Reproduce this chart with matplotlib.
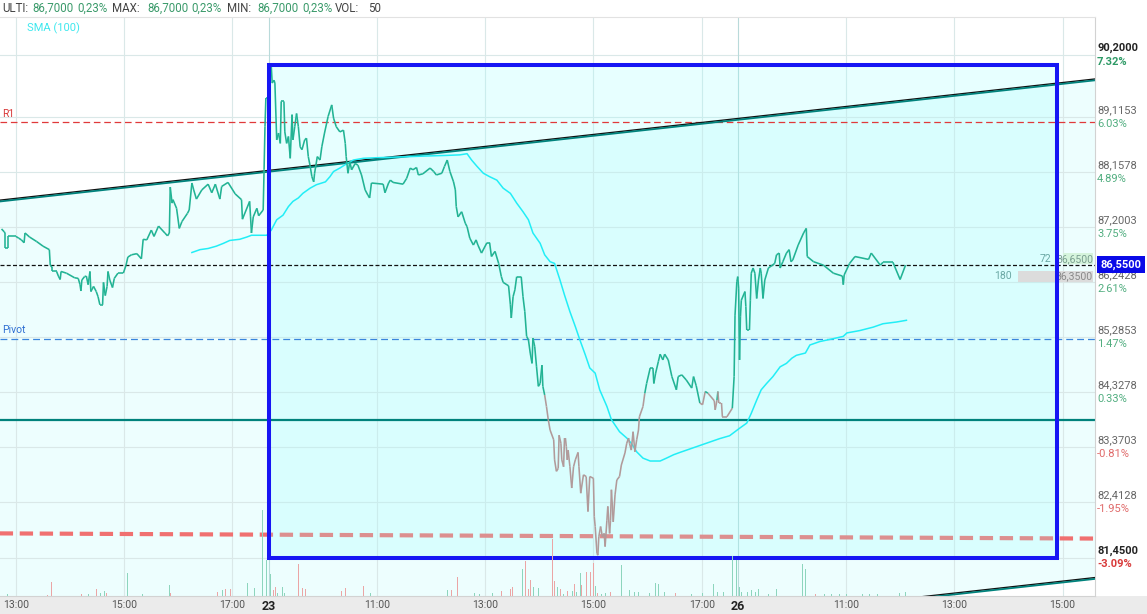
import numpy as np
import matplotlib
matplotlib.use("Agg")
import matplotlib.pyplot as plt
from matplotlib.collections import LineCollection
from matplotlib.patches import Rectangle

plt.rcParams["font.family"] = ["Roboto", "DejaVu Sans"]

# x = trading minutes counted from 09:00 on the 22nd (sessions 09:00-17:40 = 520 min)
session_22 = [
    (224, 87.17), (227, 87.12), (228, 87.10), (228, 86.83), (231, 86.83), (231, 87.04),
    (240, 87.04), (243, 87.01), (246, 86.98), (249, 86.93), (250, 87.10), (255, 87.03),
    (263, 86.95), (270, 86.87), (277, 86.81), (278, 86.54), (280, 86.50), (280, 86.43),
    (285, 86.43), (287, 86.35), (289, 86.29), (290, 86.43), (296, 86.40), (305, 86.32),
    (309, 86.31), (311, 86.20), (312, 86.09), (313, 86.28), (316, 86.34), (318, 86.35),
    (320, 86.20), (322, 86.43), (323, 86.08), (326, 86.17), (329, 86.08), (331, 85.99),
    (333, 85.85), (336, 85.85), (337, 86.24), (339, 86.01), (341, 86.17), (342, 86.43),
    (344, 86.28), (347, 86.15), (349, 86.31), (353, 86.40), (359, 86.40), (362, 86.54),
    (364, 86.68), (368, 86.72), (374, 86.74), (379, 86.65), (381, 86.99), (385, 86.98),
    (390, 87.15), (393, 87.04), (398, 87.22), (405, 87.10), (408, 87.05), (410, 87.10),
    (411, 87.90), (413, 87.62), (414, 87.68), (418, 87.53), (421, 87.18), (424, 87.30),
    (430, 87.44), (432, 87.50), (435, 87.97), (437, 87.85), (440, 87.69), (446, 87.85),
    (453, 87.95), (457, 87.80), (461, 87.95), (466, 87.69), (468, 87.91), (475, 87.98),
    (483, 87.78), (490, 87.68), (491, 87.34), (499, 87.65), (500, 87.38), (501, 87.10),
    (503, 87.38), (507, 87.53), (509, 87.40), (514, 87.50), (515, 88.20), (516, 88.95),
    (517, 89.45), (520, 89.45),
]
session_23 = [
    (521, 90.00), (523, 90.00), (524, 89.71), (526, 89.76), (527, 89.71), (529, 88.72),
    (531, 88.84), (533, 88.66), (534, 89.39), (537, 89.39), (538, 88.86), (540, 88.66),
    (542, 88.78), (544, 88.40), (546, 89.16), (547, 88.72), (549, 88.95), (551, 89.18),
    (553, 88.95), (555, 88.60), (557, 88.55), (560, 88.72), (562, 88.75), (564, 88.43),
    (566, 88.27), (568, 88.08), (570, 87.99), (571, 88.14), (574, 88.43), (577, 88.37),
    (579, 88.60), (582, 88.84), (586, 89.13), (590, 89.33), (592, 89.10), (595, 88.95),
    (599, 88.86), (603, 88.89), (605, 88.66), (606, 88.43), (608, 88.14), (610, 88.34),
    (612, 88.20), (616, 88.31), (619, 88.28), (623, 88.11), (627, 87.85), (630, 87.76),
    (632, 87.71), (634, 87.97), (647, 87.95), (649, 87.80), (653, 87.97), (655, 88.02),
    (658, 87.98), (669, 87.95), (673, 88.05), (677, 88.23), (680, 88.20), (684, 88.24),
    (686, 88.11), (691, 88.13), (699, 88.23), (703, 88.17), (706, 88.11), (712, 88.14),
    (715, 88.26), (718, 88.37), (721, 88.17), (725, 87.99), (727, 87.85), (728, 87.56),
    (730, 87.38), (734, 87.47), (738, 87.27), (740, 87.21), (743, 87.01), (747, 86.89),
    (750, 86.98), (752, 86.89), (756, 86.75), (762, 86.93), (765, 86.93), (767, 86.69),
    (771, 86.78), (775, 86.57), (778, 86.34), (780, 86.24), (786, 86.18), (788, 85.85),
    (789, 85.62), (791, 85.99), (793, 86.11), (795, 86.34), (800, 86.34), (802, 85.99),
    (804, 85.73), (806, 85.30), (808, 85.24), (810, 85.01), (812, 84.83), (813, 85.27),
    (815, 85.12), (817, 84.77), (819, 84.43), (821, 84.48), (823, 84.80), (824, 84.43),
    (826, 84.28), (828, 84.08), (830, 83.85), (832, 83.67), (836, 83.50), (837, 83.15),
    (839, 82.95), (841, 83.00), (842, 83.58), (844, 83.44), (845, 83.15), (847, 83.03),
    (848, 83.53), (849, 83.53), (850, 83.38), (851, 83.15), (852, 83.32), (854, 83.03),
    (856, 82.66), (858, 83.03), (860, 83.15), (863, 83.28), (864, 83.03), (866, 82.57),
    (869, 82.89), (872, 82.86), (874, 82.25), (876, 82.86), (880, 82.83), (881, 82.16),
    (882, 81.99), (884, 81.52), (885, 81.49), (886, 81.81), (888, 81.99), (890, 81.81),
    (892, 81.87), (893, 81.64), (895, 82.10), (896, 82.34), (898, 81.87), (899, 82.10),
    (900, 82.63), (902, 82.07), (904, 82.54), (906, 82.80), (909, 82.86), (911, 83.06),
    (915, 83.27), (917, 83.44), (919, 83.53), (920, 83.44), (922, 83.32), (924, 83.64),
    (926, 83.29), (928, 83.50), (930, 83.67), (931, 83.90), (935, 84.08), (937, 84.31),
    (939, 84.48), (943, 84.75), (946, 84.75), (947, 84.48), (949, 84.66), (952, 84.86),
    (954, 84.99), (957, 84.89), (959, 84.99), (963, 84.89), (967, 84.60), (972, 84.37),
    (974, 84.60), (978, 84.63), (983, 84.54), (989, 84.40), (991, 84.60), (994, 84.44),
    (998, 84.14), (1001, 84.11), (1004, 84.34), (1007, 84.31), (1014, 84.18), (1015, 84.02),
    (1017, 84.19), (1018, 84.34), (1019, 84.14), (1022, 84.14), (1023, 83.90), (1028, 83.90),
    (1034, 84.05), (1036, 84.60), (1037, 85.67), (1039, 86.25), (1040, 86.34),
]
session_26 = [
    (1041, 86.14), (1042, 84.89), (1043, 85.64), (1044, 85.93), (1048, 86.08), (1049, 85.82),
    (1050, 85.41), (1053, 85.41), (1054, 85.93), (1055, 86.40), (1057, 86.49), (1059, 86.40),
    (1061, 85.96), (1063, 86.28), (1065, 86.49), (1066, 86.40), (1068, 85.96), (1070, 86.28),
    (1074, 86.49), (1081, 86.57), (1083, 86.72), (1086, 86.75), (1087, 86.49), (1090, 86.60),
    (1094, 86.75), (1097, 86.81), (1099, 86.60), (1101, 86.63), (1107, 86.89), (1113, 87.10),
    (1116, 87.18), (1117, 86.69), (1124, 86.60), (1135, 86.54), (1146, 86.40), (1156, 86.35),
    (1157, 86.20), (1158, 86.37), (1164, 86.57), (1170, 86.69), (1185, 86.64), (1188, 86.75),
    (1198, 86.54), (1201, 86.59), (1212, 86.59), (1220, 86.29), (1226, 86.54),
]
sma_100 = [
    (435, 86.76), (444, 86.81), (453, 86.83), (462, 86.87), (470, 86.92), (477, 86.97),
    (488, 86.99), (496, 87.03), (501, 87.06), (518, 87.06), (523, 87.15), (529, 87.33),
    (536, 87.41), (542, 87.56), (547, 87.65), (553, 87.71), (558, 87.79), (566, 87.88),
    (573, 87.94), (583, 87.99), (588, 88.08), (592, 88.17), (599, 88.23), (607, 88.31),
    (614, 88.37), (625, 88.40), (640, 88.41), (658, 88.42), (677, 88.43), (695, 88.44),
    (717, 88.45), (732, 88.46), (740, 88.48), (745, 88.37), (751, 88.26), (758, 88.14),
    (765, 88.08), (773, 88.02), (780, 87.88), (788, 87.79), (795, 87.62), (802, 87.47),
    (808, 87.33), (813, 87.10), (821, 86.92), (826, 86.72), (832, 86.60), (837, 86.57),
    (843, 86.28), (848, 86.02), (854, 85.73), (860, 85.47), (865, 85.24), (871, 84.98),
    (876, 84.75), (882, 84.66), (887, 84.37), (895, 84.08), (900, 83.85), (909, 83.64),
    (917, 83.53), (922, 83.44), (928, 83.29), (935, 83.18), (943, 83.13), (954, 83.13),
    (961, 83.18), (969, 83.24), (976, 83.28), (998, 83.40), (1020, 83.52), (1031, 83.57),
    (1042, 83.70), (1050, 83.79), (1055, 83.96), (1061, 84.19), (1066, 84.37), (1072, 84.48),
    (1079, 84.60), (1087, 84.77), (1094, 84.83), (1100, 84.92), (1105, 84.97), (1115, 85.01),
    (1120, 85.15), (1131, 85.21), (1146, 85.26), (1157, 85.30), (1161, 85.36), (1175, 85.40),
    (1190, 85.46), (1201, 85.52), (1216, 85.55), (1227, 85.58),
]
# (minute, volume, 1 = up bar / 0 = down bar)
volume_bars = [
    (231, 2, 1), (275, 1.5, 0), (279, 14, 0), (281, 18, 0), (311, 10, 0), (313, 2, 0),
    (320, 2, 1), (322, 2, 0), (329, 7, 0), (334, 3, 1), (338, 5, 1), (340, 3, 0),
    (342, 4, 1), (364, 23, 1), (380, 2, 1), (393, 1.5, 1), (410, 11, 1), (411, 3, 0),
    (413, 2, 0), (434, 2, 1), (463, 4, 0), (469, 6, 1), (472, 7, 0), (474, 6, 1),
    (478, 7, 0), (497, 13, 1), (504, 8, 1), (513, 86, 1), (518, 36, 1), (522, 22, 1),
    (525, 6, 0), (528, 9, 0), (530, 3, 1), (535, 9, 1), (538, 3, 1), (553, 32, 0),
    (558, 8, 0), (561, 7, 0), (567, 5, 0), (587, 1.5, 1), (601, 5, 0), (605, 8, 0),
    (607, 3, 0), (625, 10, 0), (628, 12, 0), (633, 3, 1), (679, 10, 0), (718, 6, 1),
    (723, 6, 0), (729, 19, 0), (731, 7, 0), (741, 12, 0), (748, 3, 1), (754, 2, 1),
    (768, 3, 1), (778, 5, 0), (788, 7, 0), (790, 9, 0), (801, 27, 1), (805, 35, 0),
    (808, 7, 0), (810, 16, 0), (814, 9, 1), (819, 8, 1), (822, 3, 1), (835, 57, 0),
    (837, 15, 0), (840, 9, 1), (844, 7, 0), (847, 2, 1), (851, 5, 0), (853, 4, 1),
    (857, 5, 1), (859, 12, 0), (861, 4, 1), (866, 23, 1), (867, 11, 0), (872, 24, 0),
    (874, 4, 1), (877, 24, 0), (880, 33, 0), (882, 10, 1), (885, 3, 0), (889, 2, 1),
    (893, 3, 1), (895, 4, 1), (899, 4, 0), (904, 9, 0), (911, 31, 1), (914, 2, 1),
    (920, 6, 1), (926, 4, 1), (930, 4, 1), (935, 4, 1), (942, 3, 1), (949, 13, 1),
    (952, 12, 1), (956, 10, 1), (959, 4, 1), (965, 4, 0), (971, 3, 0), (989, 2, 1),
    (1001, 3, 1), (1013, 12, 1), (1018, 4, 1), (1024, 4, 1), (1034, 40, 1), (1037, 38, 1),
    (1039, 36, 1), (1042, 9, 1), (1044, 4, 1), (1047, 4, 1), (1051, 4, 1), (1055, 6, 1),
    (1060, 4, 1), (1063, 7, 1), (1067, 5, 0), (1074, 2, 1), (1083, 7, 1), (1089, 2, 1),
    (1098, 7, 1), (1112, 32, 1), (1115, 27, 1), (1119, 2, 0), (1126, 2, 0), (1136, 2, 1),
    (1144, 2, 1), (1153, 2, 1), (1161, 2, 1), (1178, 2, 1), (1186, 2, 1), (1195, 2, 1),
    (1219, 3, 1), (1226, 4, 1),
]

tick_t = [240, 360, 480, 520, 640, 760, 880, 1000, 1040, 1160, 1280, 1400]
tick_lbl = ["13:00", "15:00", "17:00", "23", "11:00", "13:00", "15:00", "17:00", "26",
            "11:00", "13:00", "15:00"]
day_lbl = ["23", "26"]

level_ticks = [90.2, 89.1153, 88.1578, 87.2003, 86.2428, 85.2853, 84.3278, 83.3703, 82.4128, 81.45]
ref_price = 84.048

r1_level = 89.03
pivot_level = 85.26
last_level = 86.55
support_level = 83.85
stop_t = [222, 1436]
stop_p = [81.87, 81.78]
trend_t = [222, 1436]
trend_hi = [87.66, 89.77]
trend_lo = [78.98, 81.09]
box_t = [520, 1394]
box_p = [81.45, 90.03]
book_rows = [(86.65, 72, "#d5f4dc"), (86.35, 180, "#dcdcdc")]

header = [("ULTI:", "86,7000", "0,23%"), ("MAX:", "86,7000", "0,23%"),
          ("MIN:", "86,7000", "0,23%"), ("VOL:", "50", None)]
header_x = [(2, 32, 77), (112, 147, 191), (227, 257, 302), (335, 368, None)]

W, H = 1147, 614
fig = plt.figure(figsize=(W / 100, H / 100), dpi=100)
fig.patch.set_facecolor("white")
fig.patches.append(Rectangle((0, 0), 1, 18 / H, transform=fig.transFigure,
                             facecolor="#ebebeb", edgecolor="none", zorder=-10))
ax = fig.add_axes([0, 18 / H, 1095 / W, 579 / H])
ax.set_facecolor("white")
ax.set_xlim(222.3, 1436)
ax.set_ylim(80.78, 90.86)

# channel between the two trend lines
ax.fill_between(trend_t, trend_lo, trend_hi, color="#edfefe", lw=0, zorder=0)

for lv in level_ticks:
    ax.axhline(lv, color="#dae8e8", lw=0.8, zorder=0.5)
for t, lb in zip(tick_t, tick_lbl):
    ax.axvline(t, color="#b9dada" if lb in day_lbl else "#dae8e8", lw=0.8, zorder=0.5)

ax.plot(stop_t, stop_p, color="#f07070", lw=3.0, dashes=(3.2, 1.6),
        dash_capstyle="butt", zorder=1.2)

# highlighted box fill
ax.add_patch(Rectangle((box_t[0], box_p[0]), box_t[1] - box_t[0], box_p[1] - box_p[0],
                       facecolor=(0.59, 1.0, 1.0, 0.22), edgecolor="none", zorder=1.5))

for lo_hi in (trend_hi, trend_lo):
    lh = np.array(lo_hi)
    ax.plot(trend_t, lh - 0.012, color="#00827c", lw=1.3, zorder=2.2)
    ax.plot(trend_t, lh + 0.011, color="#111111", lw=1.0, zorder=2.1)

ax.axhline(r1_level, color="#e0393a", lw=0.9, dashes=(5.3, 3.0), zorder=2)
ax.axhline(pivot_level, color="#3a85dc", lw=0.9, dashes=(5.5, 3.2), zorder=2)
ax.axhline(last_level, color="#111111", lw=0.9, dashes=(3.2, 1.8), zorder=2)
ax.axhline(support_level, color="#00827c", lw=1.6, zorder=2)

ax.annotate("R1", xy=(0, r1_level), xycoords=("axes fraction", "data"), xytext=(1.5, 6),
            textcoords="offset points", fontsize=7.5, color="#d83a3a", va="center")
ax.annotate("Pivot", xy=(0, pivot_level), xycoords=("axes fraction", "data"), xytext=(1.5, 6),
            textcoords="offset points", fontsize=7.5, color="#2f6fd2", va="center")
ax.text(27 / 1095, 1 - 11 / 579, "SMA (100)", transform=ax.transAxes, fontsize=8,
        color="#3ee8ee", va="center")

# SMA and price
sma_t, sma_v = zip(*sma_100)
ax.plot(sma_t, sma_v, color="#22eef6", lw=1.1, zorder=3)

pts = np.array(session_22 + session_23 + session_26, dtype=float)
segs = np.stack([pts[:-1], pts[1:]], axis=1)
mid = (pts[:-1, 1] + pts[1:, 1]) / 2
cols = np.where(mid < 84.25, "#b19a9a", "#22b394")
ax.add_collection(LineCollection(segs, colors=cols, linewidths=1.15, zorder=4))

# order book rows at the right edge
right_t = 1433.7
for lv, size, fc in book_rows:
    w = size * 0.4617
    ax.add_patch(Rectangle((right_t - w, lv - 0.095), w, 0.19, facecolor=fc,
                           edgecolor="none", zorder=2.5))
    ax.annotate(f"{lv:.4f}".replace(".", ","), xy=(right_t, lv), xytext=(0, 0),
                textcoords="offset points", ha="right", va="center", fontsize=7.5,
                color="#7a9e90" if size < 100 else "#8a8a8a", zorder=2.6)
    off = max(size * 0.42, 36) + 6
    ax.annotate(str(size), xy=(right_t, lv), xytext=(-off * 0.72, 0),
                textcoords="offset points", ha="right", va="center", fontsize=7.5,
                color="#6aa8a4", zorder=2.6)

ax.add_patch(Rectangle((box_t[0], box_p[0]), box_t[1] - box_t[0], box_p[1] - box_p[0],
                       fill=False, edgecolor="#1616f4", lw=2.9, zorder=7))

# volume pane
axv = ax.twinx()
axv.set_ylim(0, 579)
axv.set_yticks([])
for s in axv.spines.values():
    s.set_visible(False)
vt, vv, vu = zip(*volume_bars)
vcols = ["#8dd5bd" if u else "#eba5a5" for u in vu]
axv.bar(vt, vv, width=0.9, color=vcols, linewidth=0)

# axes cosmetics
ax.set_yticks([])
ax.set_xticks(tick_t)
ax.set_xticklabels(tick_lbl)
ax.tick_params(axis="x", length=0, pad=3, labelsize=7.5, labelcolor="#555555")
for lbl in ax.get_xticklabels():
    if lbl.get_text() in day_lbl:
        lbl.set_fontweight("bold")
        lbl.set_fontsize(9)
        lbl.set_color("#222222")
ax.spines["left"].set_visible(False)
ax.spines["bottom"].set_color("#d2d2d2")
ax.spines["top"].set_color("#e2e2e2")
ax.spines["right"].set_color("#d2d2d2")
for s in ("bottom", "top", "right"):
    ax.spines[s].set_linewidth(0.8)

# right price scale
for i, lv in enumerate(level_ticks):
    pct = (lv / ref_price - 1) * 100
    strong = i in (0, len(level_ticks) - 1)
    ax.annotate(f"{lv:.4f}".replace(".", ","), xy=(1, lv), xycoords=("axes fraction", "data"),
                xytext=(1.5, 5), textcoords="offset points", ha="left", va="center",
                fontsize=8, color="#222222" if strong else "#666666",
                fontweight="bold" if strong else "normal", annotation_clip=False)
    if pct >= 0:
        pc = "#2e9a66" if strong else "#52ae80"
    else:
        pc = "#d83a3a" if strong else "#e06a6a"
    ax.annotate(f"{pct:.2f}%", xy=(1, lv), xycoords=("axes fraction", "data"),
                xytext=(1.5, -5), textcoords="offset points", ha="left", va="center",
                fontsize=8, color=pc, fontweight="bold" if strong else "normal",
                annotation_clip=False)

ax.annotate(f"{last_level:.4f}".replace(".", ","), xy=(1, last_level),
            xycoords=("axes fraction", "data"), xytext=(3.8, 0), textcoords="offset points",
            ha="left", va="center", fontsize=8, color="white", fontweight="bold",
            bbox=dict(boxstyle="square,pad=0.3", fc="#0a0ae8", ec="none"),
            annotation_clip=False, zorder=8)

# header line
hy = 1 - 8 / H
for (lab, val, pct), (x0, x1, x2) in zip(header, header_x):
    fig.text(x0 / W, hy, lab, fontsize=8.3, color="#444444", va="center")
    fig.text(x1 / W, hy, val, fontsize=8.3, color="#3a9a6a" if pct else "#444444", va="center")
    if pct:
        fig.text(x2 / W, hy, pct, fontsize=8.3, color="#3a9a6a", va="center")

fig.savefig("out.png", dpi=100)
